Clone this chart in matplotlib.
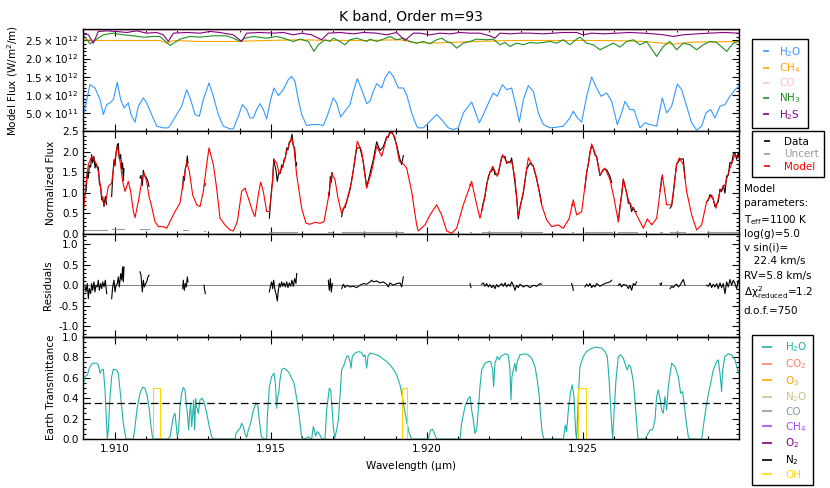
import numpy as np
import matplotlib
matplotlib.use('Agg')
import matplotlib.pyplot as plt
from matplotlib.ticker import MultipleLocator, FuncFormatter
from matplotlib.lines import Line2D

# ---- top panel: model fluxes (wavelength in nm, flux in 1e12 W/m^2/m)
h2o_nm = [1909.000, 1909.213, 1909.373, 1909.534, 1909.640, 1909.747, 1909.854, 1909.960, 1910.088, 1910.195,
          1910.302, 1910.440, 1910.526, 1910.654, 1910.761, 1910.921, 1911.027, 1911.187, 1911.347, 1911.561,
          1911.721, 1911.828, 1911.988, 1912.148, 1912.308, 1912.436, 1912.575, 1912.713, 1912.841, 1913.023,
          1913.161, 1913.321, 1913.481, 1913.695, 1913.802, 1913.962, 1914.090, 1914.228, 1914.335, 1914.442,
          1914.548, 1914.655, 1914.762, 1914.869, 1914.997, 1915.103, 1915.242, 1915.402, 1915.562, 1915.669,
          1915.775, 1915.861, 1915.989, 1916.149, 1916.309, 1916.522, 1916.682, 1916.821, 1917.003, 1917.109,
          1917.237, 1917.376, 1917.536, 1917.643, 1917.771, 1917.909, 1918.070, 1918.176, 1918.283, 1918.390,
          1918.550, 1918.656, 1918.795, 1918.923, 1919.083, 1919.243, 1919.350, 1919.510, 1919.670, 1919.723,
          1919.884, 1920.044, 1920.310, 1920.470, 1920.684, 1920.844, 1921.004, 1921.164, 1921.431, 1921.538,
          1921.676, 1921.804, 1922.018, 1922.124, 1922.252, 1922.412, 1922.551, 1922.711, 1922.850, 1922.957,
          1923.085, 1923.245, 1923.405, 1923.565, 1923.725, 1923.938, 1924.152, 1924.365, 1924.578, 1924.685,
          1924.792, 1924.952, 1925.112, 1925.272, 1925.432, 1925.571, 1925.752, 1925.912, 1926.094, 1926.232,
          1926.339, 1926.499, 1926.627, 1926.819, 1926.979, 1927.139, 1927.353, 1927.534, 1927.673, 1927.833,
          1928.014, 1928.153, 1928.313, 1928.473, 1928.633, 1928.793, 1928.932, 1929.081, 1929.220, 1929.380,
          1929.540, 1929.700, 1929.860, 1929.988]
h2o_flux = [0.419, 1.284, 1.193, 0.874, 0.464, 0.738, 0.783, 0.874, 1.348, 0.874,
            0.647, 0.783, 0.464, 0.255, 0.692, 0.920, 0.783, 0.464, 0.146, 0.100,
            0.100, 0.237, 0.464, 0.692, 1.147, 0.874, 0.464, 0.419, 0.874, 1.330,
            0.965, 0.464, 0.146, 0.073, 0.073, 0.419, 0.738, 0.601, 0.373, 0.373,
            0.601, 0.765, 0.601, 0.346, 0.874, 1.193, 0.984, 1.147, 1.421, 1.512,
            1.375, 0.965, 0.464, 0.164, 0.191, 0.191, 0.164, 0.464, 0.920, 0.783,
            0.401, 0.556, 0.738, 1.102, 1.448, 1.147, 0.765, 0.829, 1.102, 1.311,
            1.193, 1.466, 1.648, 1.512, 1.193, 1.193, 1.011, 0.510, 0.146, 0.100,
            0.100, 0.237, 0.464, 0.328, 0.100, 0.055, 0.100, 0.510, 0.811, 0.556,
            0.237, 0.464, 0.874, 1.056, 0.965, 1.284, 1.147, 1.193, 0.692, 0.255,
            0.874, 1.257, 1.102, 0.510, 0.191, 0.100, 0.118, 0.146, 0.373, 0.556,
            0.401, 0.255, 0.965, 1.494, 1.193, 0.965, 1.056, 0.829, 0.191, 0.510,
            0.829, 0.601, 0.601, 0.100, 0.237, 0.191, 0.146, 0.920, 0.510, 0.692,
            1.302, 1.147, 0.692, 0.237, 0.036, 0.146, 0.510, 0.601, 0.373, 0.692,
            0.738, 0.965, 1.147, 1.238]

ch4_nm = [1909.000, 1909.534, 1910.601, 1911.454, 1911.668, 1911.881, 1912.735, 1913.802, 1914.869, 1915.936,
          1917.003, 1918.070, 1919.137, 1919.670, 1919.777, 1920.097, 1921.591, 1922.658, 1924.792, 1925.859,
          1926.926, 1927.886, 1928.526, 1929.988]
ch4_flux = [2.514, 2.495, 2.495, 2.495, 2.422, 2.495, 2.468, 2.468, 2.495, 2.514,
            2.495, 2.495, 2.514, 2.422, 2.441, 2.422, 2.468, 2.495, 2.495, 2.495,
            2.468, 2.395, 2.450, 2.468]

co_nm = [1909.0, 1930.0]
co_flux = [2.785, 2.785]

nh3_nm = [1909.000, 1909.213, 1909.427, 1909.640, 1909.960, 1910.280, 1910.601, 1910.921, 1911.241, 1911.454,
          1911.774, 1912.094, 1912.414, 1912.735, 1913.161, 1913.588, 1913.802, 1914.015, 1914.175, 1914.442,
          1914.869, 1915.189, 1915.402, 1915.722, 1915.936, 1916.202, 1916.384, 1916.522, 1916.736, 1916.896,
          1917.003, 1917.216, 1917.376, 1917.536, 1917.749, 1918.070, 1918.176, 1918.390, 1918.603, 1918.816,
          1919.030, 1919.243, 1919.457, 1919.670, 1919.884, 1920.097, 1920.310, 1920.470, 1920.630, 1920.790,
          1920.950, 1921.164, 1921.377, 1921.590, 1921.910, 1922.124, 1922.337, 1922.497, 1922.657, 1922.871,
          1923.085, 1923.298, 1923.511, 1923.725, 1923.938, 1924.152, 1924.365, 1924.578, 1924.792, 1924.898,
          1925.112, 1925.325, 1925.539, 1925.752, 1925.965, 1926.179, 1926.392, 1926.606, 1926.819, 1927.032,
          1927.352, 1927.566, 1927.779, 1927.993, 1928.206, 1928.420, 1928.633, 1928.846, 1929.060, 1929.273,
          1929.593, 1929.806, 1929.988]
nh3_flux = [2.650, 2.404, 2.532, 2.650, 2.696, 2.650, 2.623, 2.586, 2.605, 2.605,
            2.359, 2.532, 2.605, 2.586, 2.623, 2.623, 2.559, 2.468, 2.559, 2.605,
            2.559, 2.605, 2.559, 2.468, 2.532, 2.468, 2.195, 2.377, 2.514, 2.468,
            2.559, 2.468, 2.377, 2.514, 2.559, 2.468, 2.532, 2.468, 2.532, 2.605,
            2.514, 2.559, 2.468, 2.422, 2.468, 2.404, 2.514, 2.559, 2.468, 2.422,
            2.286, 2.422, 2.468, 2.532, 2.514, 2.532, 2.377, 2.441, 2.331, 2.422,
            2.377, 2.441, 2.422, 2.441, 2.468, 2.422, 2.514, 2.377, 2.532, 2.586,
            2.422, 2.377, 2.240, 2.331, 2.422, 2.313, 2.468, 2.514, 2.377, 2.468,
            2.058, 2.331, 2.468, 2.240, 2.422, 2.377, 2.240, 2.377, 2.468, 2.441,
            2.195, 2.422, 2.468]

h2s_nm = [1909.000, 1909.160, 1909.320, 1909.480, 1909.747, 1910.067, 1910.387, 1910.707, 1911.027, 1911.347,
          1911.561, 1911.721, 1911.881, 1912.308, 1912.735, 1913.055, 1913.375, 1913.802, 1914.068, 1914.228,
          1914.655, 1915.082, 1915.402, 1915.722, 1915.989, 1916.309, 1916.629, 1916.842, 1917.216, 1917.643,
          1917.963, 1918.390, 1918.710, 1919.030, 1919.297, 1919.564, 1919.777, 1920.097, 1920.417, 1920.737,
          1921.057, 1921.377, 1921.697, 1922.017, 1922.177, 1922.337, 1922.657, 1922.977, 1923.298, 1923.725,
          1924.045, 1924.365, 1924.792, 1925.005, 1925.272, 1925.645, 1926.072, 1926.499, 1926.926, 1927.246,
          1927.566, 1927.886, 1928.206, 1928.633, 1929.060, 1929.486, 1929.988]
h2s_flux = [2.677, 2.650, 2.422, 2.742, 2.759, 2.742, 2.714, 2.759, 2.696, 2.714,
            2.650, 2.468, 2.696, 2.714, 2.696, 2.742, 2.714, 2.650, 2.468, 2.696,
            2.714, 2.696, 2.714, 2.650, 2.696, 2.650, 2.514, 2.696, 2.714, 2.677,
            2.714, 2.696, 2.650, 2.714, 2.495, 2.696, 2.696, 2.650, 2.696, 2.677,
            2.714, 2.696, 2.696, 2.623, 2.559, 2.696, 2.677, 2.696, 2.696, 2.677,
            2.696, 2.714, 2.714, 2.650, 2.696, 2.677, 2.696, 2.714, 2.696, 2.677,
            2.650, 2.605, 2.650, 2.677, 2.696, 2.714, 2.696]

# ---- normalized model spectrum
model_nm = [1909.000, 1909.085, 1909.160, 1909.267, 1909.373, 1909.448, 1909.512, 1909.587, 1909.662, 1909.726,
            1909.800, 1909.907, 1909.982, 1910.088, 1910.174, 1910.259, 1910.334, 1910.440, 1910.515, 1910.601,
            1910.654, 1910.761, 1910.867, 1910.942, 1911.027, 1911.102, 1911.187, 1911.294, 1911.401, 1911.561,
            1911.668, 1911.774, 1911.934, 1912.094, 1912.201, 1912.308, 1912.393, 1912.500, 1912.628, 1912.735,
            1912.841, 1912.948, 1913.023, 1913.161, 1913.268, 1913.375, 1913.535, 1913.695, 1913.802, 1913.930,
            1914.068, 1914.175, 1914.282, 1914.420, 1914.495, 1914.602, 1914.676, 1914.762, 1914.869, 1914.954,
            1915.029, 1915.103, 1915.189, 1915.274, 1915.402, 1915.509, 1915.669, 1915.744, 1915.829, 1915.989,
            1916.128, 1916.256, 1916.416, 1916.576, 1916.704, 1916.842, 1916.949, 1917.056, 1917.163, 1917.269,
            1917.429, 1917.589, 1917.771, 1917.909, 1918.070, 1918.230, 1918.390, 1918.550, 1918.710, 1918.870,
            1918.977, 1919.115, 1919.243, 1919.350, 1919.510, 1919.670,
            1919.723, 1919.937, 1920.097, 1920.310, 1920.470, 1920.630, 1920.790, 1920.950, 1921.164, 1921.431,
            1921.569, 1921.697, 1921.804, 1921.964, 1922.103, 1922.252, 1922.423, 1922.572, 1922.711, 1922.817,
            1922.924, 1923.085, 1923.245, 1923.405, 1923.511, 1923.671, 1923.831, 1923.991, 1924.205, 1924.365,
            1924.557, 1924.685, 1924.792, 1924.952, 1925.112, 1925.272, 1925.432, 1925.539, 1925.699, 1925.859,
            1925.987, 1926.126, 1926.286, 1926.446, 1926.552, 1926.659, 1926.819, 1926.926, 1927.054, 1927.193,
            1927.353, 1927.534, 1927.673, 1927.833, 1927.993, 1928.078, 1928.206, 1928.313, 1928.473, 1928.633,
            1928.793, 1928.953, 1929.113, 1929.252, 1929.380, 1929.540, 1929.700, 1929.860, 1929.988]
model_flux = [0.547, 1.201, 1.691, 1.895, 1.773, 1.650, 1.364, 0.915, 0.711, 0.833,
              1.160, 1.242, 1.691, 2.141, 1.773, 1.283, 1.038, 1.283, 1.038, 0.547,
              0.400, 0.792, 1.283, 1.487, 1.283, 0.915, 0.670, 0.302, 0.180, 0.180,
              0.139, 0.302, 0.547, 0.752, 1.283, 1.757, 1.528, 0.956, 0.711, 0.670,
              1.038, 1.691, 2.100, 1.691, 1.119, 0.384, 0.221, 0.098, 0.074, 0.302,
              1.038, 1.119, 0.874, 0.547, 0.425, 0.956, 1.266, 1.038, 0.547, 0.547,
              1.038, 1.814, 1.732, 1.462, 1.691, 2.018, 2.345, 2.100, 1.446, 0.629,
              0.261, 0.237, 0.286, 0.261, 0.302, 0.874, 1.487, 1.324, 0.833, 0.507,
              0.792, 1.283, 2.263, 2.018, 1.119, 1.528, 2.141, 1.895, 2.345, 2.508,
              2.345, 1.773, 1.708, 1.609, 1.038, 0.221,
              0.074, 0.221, 0.466, 0.711, 0.466, 0.074, 0.016, 0.139, 0.711, 1.283,
              0.792, 0.384, 0.711, 1.405, 1.650, 1.405, 1.936, 1.732, 1.773, 1.364,
              0.425, 1.038, 1.855, 1.650, 1.364, 0.711, 0.343, 0.180, 0.221, 0.139,
              0.384, 0.833, 0.466, 0.547, 1.487, 2.198, 1.855, 1.446, 1.609, 1.324,
              0.874, 0.302, 1.324, 0.833, 0.670, 0.547, 0.302, 0.139, 0.368, 0.221,
              0.384, 1.446, 0.711, 0.711, 1.691, 1.855, 1.691, 1.038, 0.466, 0.098,
              0.221, 0.792, 0.956, 0.629, 1.038, 1.201, 1.609, 1.936, 1.855]

# ---- residuals (data - model) for each observed chunk
resid_nm = [
    [1909.053, 1909.085, 1909.128, 1909.160, 1909.192, 1909.235, 1909.267, 1909.299, 1909.341, 1909.373,
     1909.405, 1909.448, 1909.480, 1909.512, 1909.555, 1909.587, 1909.619, 1909.662, 1909.704, 1909.747],
    [1909.907, 1909.939, 1909.982, 1910.014, 1910.046, 1910.088, 1910.120, 1910.152, 1910.195, 1910.227,
     1910.259, 1910.280, 1910.302],
    [1910.814, 1910.846, 1910.889, 1910.921, 1910.953, 1910.995, 1911.027, 1911.070, 1911.102],
    [1912.180, 1912.201, 1912.233, 1912.265, 1912.297, 1912.329, 1912.350],
    [1912.863, 1912.884, 1912.905],
    [1914.954, 1914.997, 1915.029, 1915.061, 1915.093, 1915.136, 1915.168, 1915.210, 1915.242, 1915.274,
     1915.306, 1915.349, 1915.381, 1915.424, 1915.466, 1915.509, 1915.551, 1915.594, 1915.637, 1915.679,
     1915.722, 1915.765, 1915.807, 1915.829],
    [1916.842, 1916.874, 1916.906, 1916.938, 1916.970],
    [1917.269, 1917.323, 1917.376, 1917.429, 1917.536, 1917.643, 1917.749, 1917.856, 1917.963, 1918.070,
     1918.176, 1918.230, 1918.283, 1918.390, 1918.496, 1918.603, 1918.710, 1918.763, 1918.816, 1918.923,
     1919.030, 1919.137, 1919.190, 1919.243],
    [1921.377, 1921.409],
    [1921.751, 1921.804, 1921.857, 1921.911, 1921.964, 1922.017, 1922.071, 1922.124, 1922.177, 1922.231,
     1922.284, 1922.337, 1922.391, 1922.444, 1922.497, 1922.551, 1922.604, 1922.657, 1922.711, 1922.764,
     1922.817, 1922.871, 1922.924, 1922.977, 1923.084, 1923.191, 1923.298, 1923.404, 1923.511, 1923.618,
     1923.671],
    [1924.632, 1924.664, 1924.685],
    [1925.058, 1925.112, 1925.165, 1925.218, 1925.272, 1925.325, 1925.378, 1925.432, 1925.539, 1925.645,
     1925.752, 1925.859, 1925.912],
    [1926.126, 1926.179, 1926.232, 1926.286, 1926.392, 1926.446, 1926.499, 1926.552, 1926.606, 1926.659,
     1926.712],
    [1927.459, 1927.491, 1927.513],
    [1927.779, 1927.833, 1927.886, 1927.939, 1927.993, 1928.046, 1928.099, 1928.206, 1928.260],
    [1928.953, 1929.006, 1929.060, 1929.113, 1929.166, 1929.220, 1929.273, 1929.326, 1929.380, 1929.433,
     1929.486, 1929.540, 1929.593, 1929.646, 1929.700, 1929.753, 1929.806, 1929.860, 1929.913, 1929.966,
     1929.988],
]
resid_val = [
    [0.000, -0.163, 0.041, -0.327, -0.082, -0.204, 0.041, -0.123, 0.082, -0.163,
     0.000, -0.041, 0.123, -0.123, 0.041, -0.082, 0.082, -0.041, 0.123, -0.204],
    [-0.327, -0.041, 0.123, -0.163, 0.000, 0.041, 0.204, -0.041, 0.286, 0.123, 0.449, 0.082, 0.449],
    [0.327, 0.245, -0.163, 0.123, -0.041, 0.041, 0.082, 0.204, 0.245],
    [-0.082, 0.123, -0.123, 0.041, -0.041, 0.204, 0.082],
    [0.000, -0.123, -0.204],
    [-0.163, 0.000, 0.082, -0.082, 0.123, -0.123, -0.204, -0.384, -0.123, 0.041,
     -0.041, 0.082, -0.025, 0.057, -0.041, 0.082, -0.057, 0.057, -0.025, 0.123,
     -0.025, 0.163, 0.041, 0.286],
    [0.123, -0.123, 0.163, -0.163, 0.041],
    [-0.082, 0.025, -0.057, 0.000, -0.041, -0.025, -0.057, 0.000, 0.041, 0.025,
     0.082, 0.123, 0.082, 0.106, 0.057, 0.082, 0.025, -0.041, 0.057, 0.000,
     0.041, 0.057, -0.041, 0.204],
    [0.041, -0.057],
    [0.025, 0.057, -0.025, 0.041, -0.041, 0.016, -0.057, 0.000, -0.082, 0.016,
     -0.041, 0.000, 0.041, -0.025, 0.057, -0.041, 0.025, -0.025, 0.082, 0.000,
     -0.123, 0.000, -0.057, 0.025, -0.041, 0.000, -0.057, 0.000, -0.025, 0.041,
     0.025],
    [0.041, -0.041, -0.123],
    [-0.041, 0.025, -0.025, 0.041, -0.057, 0.000, -0.041, 0.041, -0.025, 0.025, 0.057, 0.082, 0.123],
    [0.000, 0.041, -0.041, 0.016, 0.000, -0.082, 0.000, -0.123, 0.041, 0.000, 0.082],
    [0.041, 0.000, 0.057],
    [-0.082, -0.025, -0.057, 0.000, 0.025, -0.041, 0.000, 0.139, 0.000],
    [0.000, -0.025, 0.057, -0.057, 0.025, -0.041, 0.041, -0.082, 0.057, -0.057,
     0.041, -0.204, 0.082, -0.041, 0.139, 0.000, 0.123, 0.041, -0.082, 0.123,
     0.041],
]
uncert_level = [0.10, 0.11, 0.13, 0.09, 0.08, 0.05, 0.06, 0.04, 0.05, 0.05, 0.05, 0.05, 0.05, 0.05, 0.05, 0.06]

# ---- telluric transmittance
tell_nm = [1909.000, 1909.053, 1909.128, 1909.213, 1909.299, 1909.427, 1909.480, 1909.534, 1909.587, 1909.640,
           1909.694, 1909.747, 1909.768, 1909.800, 1909.854, 1909.907, 1909.960, 1910.067, 1910.120, 1910.195,
           1910.280, 1910.366, 1910.601, 1910.654, 1910.729, 1910.814, 1910.899, 1910.974, 1911.049, 1911.113,
           1911.155, 1911.219, 1911.721, 1911.774, 1911.828, 1911.881, 1911.934, 1911.966, 1912.009, 1912.052,
           1912.094, 1912.148, 1912.201, 1912.254, 1912.308, 1912.340, 1912.372, 1912.404, 1912.436, 1912.468,
           1912.500, 1912.532, 1912.564, 1912.596, 1912.628, 1912.681, 1912.735, 1912.798, 1912.863, 1912.948,
           1913.033, 1913.108, 1913.161, 1913.855, 1913.887, 1913.962, 1914.015, 1914.068, 1914.122, 1914.175,
           1914.228, 1914.282, 1914.356, 1914.442, 1914.527, 1914.580, 1914.634, 1914.698, 1914.762, 1914.869,
           1914.890, 1914.954, 1915.029, 1915.103, 1915.146, 1915.189, 1915.221, 1915.253, 1915.295, 1915.349,
           1915.423, 1915.509, 1915.594, 1915.669, 1915.744, 1915.829, 1915.914, 1915.989, 1916.042, 1916.149,
           1916.202, 1916.256, 1916.309, 1916.362, 1916.394, 1916.437, 1916.490, 1916.544, 1916.597, 1916.640,
           1916.736, 1916.789, 1916.842, 1916.874, 1916.917, 1916.960, 1917.003, 1917.045, 1917.109, 1917.163,
           1917.216, 1917.269, 1917.344, 1917.429, 1917.483, 1917.536, 1917.568, 1917.611, 1917.696, 1917.803,
           1917.909, 1917.963, 1918.016, 1918.070, 1918.112, 1918.176, 1918.283, 1918.390, 1918.496, 1918.603,
           1918.710, 1918.816, 1918.923, 1919.030, 1919.137, 1919.211, 1919.265, 1919.350, 1919.435, 1919.510,
           1920.043, 1920.118, 1920.182, 1920.257, 1920.310, 1921.057, 1921.110, 1921.217, 1921.324, 1921.377,
           1921.431, 1921.484, 1921.537, 1921.591, 1921.644, 1921.697, 1921.751, 1921.857, 1921.964, 1922.039,
           1922.103, 1922.135, 1922.177, 1922.252, 1922.315, 1922.358, 1922.497, 1922.604, 1922.657, 1922.689,
           1922.721, 1922.764, 1922.817, 1922.849, 1922.892, 1922.977, 1923.137, 1923.244, 1923.351, 1923.458,
           1923.532, 1923.596, 1923.639, 1923.692, 1923.746, 1924.365, 1924.386, 1924.429, 1924.472, 1924.525,
           1924.600, 1924.653, 1924.706, 1924.760, 1924.792, 1924.845, 1924.898, 1925.005, 1925.112, 1925.272,
           1925.432, 1925.592, 1925.699, 1925.774, 1925.838, 1925.902, 1925.944, 1925.987, 1926.051, 1926.126,
           1926.200, 1926.286, 1926.371, 1926.414, 1926.456, 1926.520, 1926.606, 1926.691, 1926.755, 1926.979,
           1927.054, 1927.139, 1927.225, 1927.299, 1927.352, 1927.406, 1927.459, 1927.513, 1927.566, 1927.619,
           1927.673, 1927.726, 1927.833, 1927.939, 1928.046, 1928.121, 1928.185, 1928.228, 1928.292, 1928.366,
           1928.420, 1928.793, 1928.846, 1928.953, 1929.060, 1929.166, 1929.273, 1929.326, 1929.380, 1929.433,
           1929.465, 1929.540, 1929.646, 1929.753, 1929.860, 1929.945, 1929.988]
tell_h2o = [0.544, 0.609, 0.625, 0.707, 0.739, 0.739, 0.723, 0.642, 0.674, 0.681,
            0.479, 0.121, 0.0, 0.088, 0.414, 0.609, 0.681, 0.674, 0.642, 0.414,
            0.153, 0.0, 0.0, 0.121, 0.316, 0.446, 0.505, 0.495, 0.414, 0.283,
            0.153, 0.0, 0.0, 0.023, 0.121, 0.218, 0.251, 0.153, 0.023, 0.088,
            0.316, 0.446, 0.502, 0.479, 0.316, 0.218, 0.088, 0.251, 0.349, 0.121,
            0.235, 0.381, 0.088, 0.397, 0.316, 0.251, 0.381, 0.397, 0.365, 0.251,
            0.121, 0.023, 0.0, 0.0, 0.055, 0.088, 0.104, 0.153, 0.121, 0.055,
            0.016, 0.088, 0.153, 0.283, 0.349, 0.332, 0.186, 0.023, 0.0, 0.0,
            0.218, 0.511, 0.609, 0.642, 0.544, 0.300, 0.414, 0.446, 0.577, 0.674,
            0.691, 0.674, 0.642, 0.593, 0.544, 0.397, 0.218, 0.016, 0.0, 0.007,
            0.023, 0.007, 0.0, 0.121, 0.088, 0.029, 0.072, 0.055, 0.023, 0.0,
            0.0, 0.283, 0.414, 0.495, 0.479, 0.316, 0.121, 0.007, 0.088, 0.186,
            0.414, 0.674, 0.723, 0.805, 0.811, 0.756, 0.691, 0.805, 0.837, 0.853,
            0.844, 0.805, 0.821, 0.691, 0.805, 0.837, 0.831, 0.821, 0.805, 0.779,
            0.756, 0.723, 0.681, 0.625, 0.528, 0.414, 0.316, 0.169, 0.055, 0.0,
            0.0, 0.088, 0.094, 0.039, 0.0, 0.0, 0.153, 0.316, 0.397, 0.414,
            0.283, 0.186, 0.055, 0.088, 0.283, 0.511, 0.674, 0.739, 0.756, 0.756,
            0.674, 0.511, 0.739, 0.805, 0.772, 0.805, 0.831, 0.821, 0.674, 0.381,
            0.609, 0.674, 0.739, 0.658, 0.756, 0.821, 0.831, 0.821, 0.788, 0.707,
            0.577, 0.414, 0.218, 0.055, 0.0, 0.0, 0.039, 0.137, 0.072, 0.283,
            0.463, 0.528, 0.414, 0.072, 0.0, 0.414, 0.707, 0.805, 0.853, 0.886,
            0.896, 0.886, 0.853, 0.805, 0.544, 0.186, 0.0, 0.251, 0.577, 0.805,
            0.821, 0.788, 0.707, 0.674, 0.723, 0.707, 0.560, 0.251, 0.0, 0.0,
            0.039, 0.088, 0.088, 0.186, 0.414, 0.479, 0.397, 0.283, 0.251, 0.414,
            0.283, 0.511, 0.739, 0.707, 0.609, 0.446, 0.463, 0.349, 0.186, 0.023,
            0.0, 0.0, 0.121, 0.349, 0.511, 0.674, 0.756, 0.772, 0.642, 0.463,
            0.674, 0.805, 0.831, 0.821, 0.772, 0.674, 0.642]

oh_nm = [1909.0, 1911.241, 1911.241, 1911.454, 1911.454, 1919.211, 1919.211, 1919.371, 1919.371,
         1924.845, 1924.845, 1925.091, 1925.091, 1930.0]
oh_trans = [0.0, 0.0, 0.5, 0.5, 0.0, 0.0, 0.5, 0.5, 0.0, 0.0, 0.5, 0.5, 0.0, 0.0]
other_species = ['CO$_2$', 'O$_3$', 'N$_2$O', 'CO', 'CH$_4$', 'O$_2$', 'N$_2$']
other_colors = ['#fa8072', '#ffa500', '#c8c38a', '#8c9aab', '#a050f0', '#800080', '#000000']
tell_cut = 0.35

params = ['Model', 'parameters:', r'T$_{\rm eff}$=1100 K', 'log(g)=5.0', 'v sin(i)=', '   22.4 km/s',
          'RV=5.8 km/s', r'$\Delta\chi^2_{\rm reduced}$=1.2', 'd.o.f.=750']
params_y = [0.612, 0.585, 0.548, 0.520, 0.492, 0.466, 0.435, 0.400, 0.363]

plt.rcParams['font.family'] = 'DejaVu Sans'
plt.rcParams['font.size'] = 7.5
plt.rcParams['mathtext.default'] = 'regular'

fig = plt.figure(figsize=(8.3, 4.88), dpi=100)
gs = fig.add_gridspec(4, 1, left=0.1004, right=0.8904, bottom=0.1004, top=0.9406, hspace=0)
ax1 = fig.add_subplot(gs[0])
ax2 = fig.add_subplot(gs[1], sharex=ax1)
ax3 = fig.add_subplot(gs[2], sharex=ax1)
ax4 = fig.add_subplot(gs[3], sharex=ax1)

um = lambda nm: np.asarray(nm) / 1000.0
lw = 0.8

# top panel
ax1.plot(um(h2o_nm), np.array(h2o_flux) * 1e12, color='#3399ff', lw=lw)
ax1.plot(um(ch4_nm), np.array(ch4_flux) * 1e12, color='#ffa500', lw=lw)
ax1.plot(um(co_nm), np.array(co_flux) * 1e12, color='#ffc0cb', lw=lw)
ax1.plot(um(nh3_nm), np.array(nh3_flux) * 1e12, color='#1f8f1f', lw=lw)
ax1.plot(um(h2s_nm), np.array(h2s_flux) * 1e12, color='#800080', lw=lw)
ax1.set_ylim(0, 2.81e12)


def sci(v, pos):
    if v <= 0:
        return ''
    e = int(np.floor(np.log10(v) + 1e-9))
    return r'$%.1f\times10^{%d}$' % (v / 10 ** e, e)


ax1.yaxis.set_major_locator(MultipleLocator(5e11))
ax1.yaxis.set_minor_locator(MultipleLocator(1e11))
ax1.yaxis.set_major_formatter(FuncFormatter(sci))
ax1.set_ylabel('Model Flux (W/m$^2$/m)')
ax1.set_title('K band, Order m=93', fontsize=10)

# normalized flux panel
for w, r in zip(resid_nm, resid_val):
    data = np.interp(w, model_nm, model_flux) + np.array(r)
    ax2.plot(um(w), data, color='black', lw=lw)
for w, u in zip(resid_nm, uncert_level):
    ax2.plot(um(w), [u] * len(w), color='#999999', lw=lw)
ax2.plot(um(model_nm), model_flux, color='red', lw=lw)
ax2.set_ylim(0, 2.5)
ax2.yaxis.set_major_locator(MultipleLocator(0.5))
ax2.yaxis.set_minor_locator(MultipleLocator(0.1))
ax2.yaxis.set_major_formatter(FuncFormatter(lambda v, p: '%.1f' % v))
ax2.set_ylabel('Normalized Flux')

# residuals
ax3.axhline(0, color='gray', lw=0.7)
for w, r in zip(resid_nm, resid_val):
    ax3.plot(um(w), r, color='black', lw=lw)
ax3.set_ylim(-1.25, 1.25)
ax3.yaxis.set_major_locator(MultipleLocator(0.5))
ax3.yaxis.set_minor_locator(MultipleLocator(0.1))
ax3.yaxis.set_major_formatter(FuncFormatter(lambda v, p: '%.1f' % v))
ax3.set_ylabel('Residuals')

# telluric
ax4.plot(um(tell_nm), tell_h2o, color='#20b2aa', lw=lw)
for c in other_colors:
    ax4.plot([1.909, 1.930], [1.0, 1.0], color=c, lw=lw)
ax4.plot(um(oh_nm), oh_trans, color='#ffd700', lw=lw)
ax4.axhline(tell_cut, color='black', lw=0.9, ls=(0, (6, 3)))
ax4.set_ylim(0, 1.0)
ax4.yaxis.set_major_locator(MultipleLocator(0.2))
ax4.yaxis.set_minor_locator(MultipleLocator(0.05))
ax4.yaxis.set_major_formatter(FuncFormatter(lambda v, p: '%.1f' % v))
ax4.set_ylabel('Earth Transmittance')
ax4.set_xlabel(r'Wavelength ($\mu$m)')

ax4.set_xlim(1.909, 1.92999)
ax4.xaxis.set_major_locator(MultipleLocator(0.005))
ax4.xaxis.set_minor_locator(MultipleLocator(0.001))
ax4.xaxis.set_major_formatter(FuncFormatter(lambda v, p: '%.3f' % v))

for ax in (ax1, ax2, ax3, ax4):
    ax.tick_params(which='both', direction='in', top=True, right=True, width=0.8, labelsize=7.5)
    ax.tick_params(which='major', length=5)
    ax.tick_params(which='minor', length=2.5)
    for s in ax.spines.values():
        s.set_linewidth(1.0)
for ax in (ax1, ax2, ax3):
    ax.tick_params(labelbottom=False)


def handles(colors, size):
    return [Line2D([], [], color=c, marker='_', ms=size, mew=1.2, ls='none') for c in colors]


leg_kw = dict(loc='upper left', borderaxespad=0, frameon=True, fancybox=False,
              edgecolor='black', framealpha=1, labelcolor='linecolor', fontsize=7.5)
l1 = ax1.legend(handles(['#3399ff', '#ffa500', '#ffc0cb', '#1f8f1f', '#800080'], 4.5),
                ['H$_2$O', 'CH$_4$', 'CO', 'NH$_3$', 'H$_2$S'],
                bbox_to_anchor=(1.02, 0.905), borderpad=0.6, handlelength=1.4,
                handletextpad=0.6, labelspacing=0.28, **leg_kw)
l1.get_frame().set_linewidth(1.0)
l2 = ax2.legend(handles(['black', '#999999', 'red'], 4.8), ['Data', 'Uncert', 'Model'],
                bbox_to_anchor=(1.02, 1.0), borderpad=0.5, handlelength=1.8,
                handletextpad=0.8, labelspacing=0.25, **leg_kw)
l2.get_frame().set_linewidth(1.0)
l3 = ax4.legend(handles(['#20b2aa'] + other_colors + ['#ffd700'], 7.2),
                ['H$_2$O'] + other_species + ['OH'],
                bbox_to_anchor=(1.02, 1.01), borderpad=0.5, handlelength=1.8,
                handletextpad=0.9, labelspacing=0.27, **leg_kw)
l3.get_frame().set_linewidth(1.0)

for y, t in zip(params_y, params):
    fig.text(0.896, y, t, fontsize=7.5, va='center')

fig.savefig('out.png', dpi=100)
